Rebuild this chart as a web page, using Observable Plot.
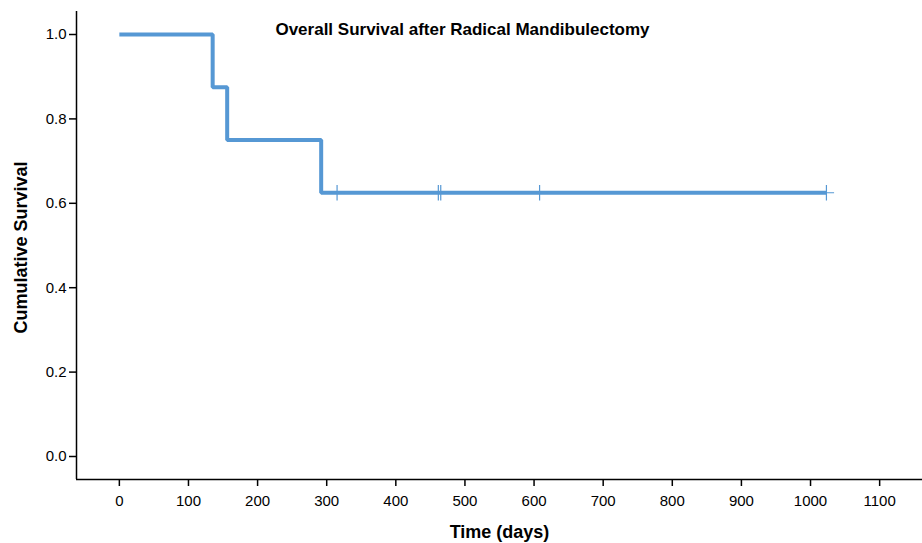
<!DOCTYPE html>
<html>
<head>
<meta charset="utf-8">
<script src="https://cdn.jsdelivr.net/npm/d3@7"></script>
<script src="https://cdn.jsdelivr.net/npm/@observablehq/plot@0.6"></script>
<style>
  html, body { margin: 0; padding: 0; background: #fff; }
  #chart svg { display: block; }
</style>
</head>
<body>
<div id="chart"></div>
<script>
const title = "Overall Survival after Radical Mandibulectomy";
const xLabel = "Time (days)";
const yLabel = "Cumulative Survival";

// Kaplan–Meier step points (time in days, cumulative survival)
const stepTimes = [0, 135, 156, 292, 1023];
const stepSurvival = [1.0, 0.875, 0.75, 0.625, 0.625];

// Censored observations
const censorTimes = [315, 461.5, 465, 608, 1023];
const censorSurvival = [0.625, 0.625, 0.625, 0.625, 0.625];

const xTicks = [0, 100, 200, 300, 400, 500, 600, 700, 800, 900, 1000, 1100];
const yTicks = [0.0, 0.2, 0.4, 0.6, 0.8, 1.0];

const steps = stepTimes.map((t, i) => ({t, s: stepSurvival[i]}));
const censors = censorTimes.map((t, i) => ({t, s: censorSurvival[i]}));

const xDomain = [-62, 1162];
const yDomain = [-0.0545, 1.0545];
const color = "#5698d4";
const font = "'Liberation Sans', Arial, Helvetica, sans-serif";

const plot = Plot.plot({
  width: 922,
  height: 543,
  marginLeft: 76,
  marginRight: 0,
  marginTop: 11,
  marginBottom: 64,
  style: {fontFamily: font, fontSize: "15px", color: "#000", background: "#fff"},
  x: {domain: xDomain, label: null},
  y: {domain: yDomain, label: null},
  marks: [
    Plot.axisX({ticks: xTicks, tickSize: 7, tickPadding: 9, tickFormat: d => String(d), fontSize: 15, label: null, strokeWidth: 1.5}),
    Plot.axisY({ticks: yTicks, tickSize: 7, tickPadding: 3, tickFormat: d3.format(".1f"), fontSize: 15, label: null, strokeWidth: 1.5}),
    Plot.ruleX([xDomain[0]], {stroke: "#000", strokeWidth: 1.5}),
    Plot.ruleY([yDomain[0]], {stroke: "#000", strokeWidth: 1.5}),
    Plot.line(steps, {x: "t", y: "s", curve: "step-after", stroke: color, strokeWidth: 4, strokeLinejoin: "miter", strokeLinecap: "butt"}),
    Plot.dot(censors, {x: "t", y: "s", symbol: "plus", r: 5, stroke: color, strokeWidth: 1.2}),
    Plot.text([title], {frameAnchor: "top", lineAnchor: "middle", textAnchor: "middle", dx: -37, dy: 18, fontSize: 17, fontWeight: "bold", fill: "#000"}),
    Plot.text([yLabel], {frameAnchor: "left", lineAnchor: "middle", textAnchor: "middle", dx: -55, dy: 2, rotate: -90, fontSize: 18, fontWeight: "bold", fill: "#000"}),
    Plot.text([xLabel], {frameAnchor: "bottom", lineAnchor: "middle", textAnchor: "middle", dy: 53, fontSize: 18, fontWeight: "bold", fill: "#000"})
  ]
});
d3.select(plot).selectAll('g[aria-label*="tick label"]').attr("font-size", 15).selectAll("text").attr("font-size", 15);
document.getElementById("chart").appendChild(plot);
</script>
</body>
</html>
